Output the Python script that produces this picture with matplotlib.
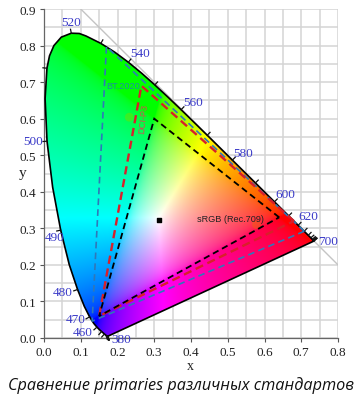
import numpy as np
import matplotlib
matplotlib.use('Agg')
import matplotlib.pyplot as plt
from matplotlib.patches import Polygon

locus_nm = [380,385,390,395,400,405,410,415,420,425,430,435,440,445,450,455,460,465,470,475,480,485,490,495,500,505,510,512.5,515,517.5,520,522.5,525,530,535,540,545,550,555,560,565,570,575,580,585,590,595,600,605,610,615,620,625,630,635,640,645,650,655,660,665,670,675,680,685,690,695,700]
locus_x = [.1741,.1740,.1738,.1736,.1733,.1730,.1726,.1721,.1714,.1703,.1689,.1669,.1644,.1611,.1566,.1510,.1440,.1355,.1241,.1096,.0913,.0687,.0454,.0235,.0082,.0030,.0080,.0150,.0270,.0470,.0743,.0960,.1142,.1547,.1929,.2296,.2658,.3016,.3373,.3731,.4087,.4441,.4788,.5125,.5448,.5752,.6029,.6270,.6482,.6658,.6801,.6915,.7006,.7079,.7140,.7190,.7230,.7260,.7283,.7300,.7311,.7320,.7327,.7334,.7340,.7344,.7346,.7347]
locus_y = [.0050,.0050,.0049,.0049,.0048,.0048,.0048,.0048,.0051,.0058,.0069,.0086,.0109,.0138,.0177,.0227,.0297,.0399,.0578,.0868,.1327,.2007,.2950,.4127,.5384,.6548,.7380,.7720,.8000,.8230,.8338,.8330,.8262,.8059,.7816,.7543,.7243,.6923,.6589,.6245,.5896,.5547,.5202,.4866,.4544,.4242,.3965,.3725,.3514,.3340,.3197,.3083,.2993,.2920,.2859,.2809,.2770,.2740,.2717,.2700,.2689,.2680,.2673,.2666,.2660,.2656,.2654,.2653]

bt2020_x = [.708,.170,.131]; bt2020_y = [.292,.797,.046]
p3_x = [.680,.265,.150];     p3_y = [.320,.690,.060]
srgb_x = [.640,.300,.150];   srgb_y = [.330,.600,.060]
white_x = [.3127];           white_y = [.322]

nm_labels = ['520','540','560','580','600','620','700','500','490','480','470','460','380']
nm_label_x = [.073,.262,.405,.543,.657,.720,.772,-.03,.03,.052,.086,.104,.211]
nm_label_y = [.865,.780,.645,.505,.395,.335,.265,.540,.277,.127,.052,.017,-.002]

tick_labels = ['0.0','0.1','0.2','0.3','0.4','0.5','0.6','0.7','0.8']
ytick_labels = tick_labels + ['0.9']
caption = 'Сравнение primaries различных стандартов'

W, H = 363, 406
fig = plt.figure(figsize=(W/100, H/100), dpi=100, facecolor='white')
ax = fig.add_axes([44/W, (H-339)/H, (338-44)/W, (339-10)/H])
ax.set_xlim(0, .8); ax.set_ylim(0, .9)
serif = 'Liberation Serif'
ax.set_xticks(np.arange(9)*.1, tick_labels, family=serif, fontsize=9.5, color='#222222')
ax.set_yticks(np.arange(10)*.1, ytick_labels, family=serif, fontsize=9.5, color='#222222')
ax.set_xticks(np.arange(17)*.05, minor=True)
ax.set_yticks(np.arange(19)*.05, minor=True)
ax.tick_params(which='major', length=3, width=.8, color='#555555', pad=2.5)
ax.tick_params(which='minor', length=0)
ax.grid(which='both', color='#d4d4d4', lw=1.1)
ax.set_axisbelow(True)
for s in ('top', 'right'):
    ax.spines[s].set_visible(False)
for s in ('left', 'bottom'):
    ax.spines[s].set_color('#666666'); ax.spines[s].set_linewidth(.9)
ax.set_xlabel('x', family=serif, fontsize=10, color='#222222')
ax.set_ylabel('y', family=serif, fontsize=11, rotation=0, color='#222222', va='center', ha='center')
ax.xaxis.set_label_coords((190-44)/294, -21/329)
ax.yaxis.set_label_coords((23-44)/294, (339-173)/329)

# chromaticity colour field
xs = np.linspace(0, .8, 500); ys = np.linspace(0, .9, 500)
gx, gy = np.meshgrid(xs, ys)
gy_safe = np.maximum(gy, 1e-3)
X, Y, Z = gx/gy_safe, np.ones_like(gx), (1-gx-gy)/gy_safe
r = 3.2406*X - 1.5372*Y - .4986*Z
g = -.9689*X + 1.8758*Y + .0415*Z
b = .0557*X - .2040*Y + 1.0570*Z
rgb = np.clip(np.dstack([r, g, b]), 0, None)
rgb = rgb / np.maximum(rgb.max(axis=2, keepdims=True), 1e-6)
rgb = rgb ** (1/2.2)
im = ax.imshow(rgb, origin='lower', extent=(0, .8, 0, .9), aspect='auto', zorder=2, interpolation='bilinear')
poly = Polygon(np.column_stack([locus_x, locus_y]), closed=True, transform=ax.transData, fc='none', ec='black', lw=1.2, zorder=4, clip_on=False, joinstyle='round')
ax.add_patch(poly)
im.set_clip_path(poly)

# x + y = 1 line
ax.plot([.1, .8], [.9, .2], color='#c4c4c4', lw=1, zorder=1.5)

# wavelength ticks every 10 nm
lx, ly = np.array(locus_x), np.array(locus_y)
sx, sy = 367, 365
for i, nm in enumerate(locus_nm):
    if nm % 10:
        continue
    a, b2 = max(i-1, 0), min(i+1, len(lx)-1)
    dx, dy = (lx[b2]-lx[a])*sx, (ly[b2]-ly[a])*sy
    n = np.hypot(dx, dy) or 1
    nx, ny = -dy/n, dx/n
    if nm < 440 or nm > 640:
        nx, ny = (.3, -.95) if nm < 440 else (.75, .65)
    ax.plot([lx[i], lx[i]+nx*4/sx], [ly[i], ly[i]+ny*4/sy], color='#111111', lw=.9, zorder=4, clip_on=False)

# gamut triangles
ax.fill(bt2020_x, bt2020_y, fc='none', ec='#2f78b8', ls=(0, (4, 2.5)), lw=1.2, zorder=5)
ax.fill(p3_x, p3_y, fc='none', ec='#d8202a', ls=(0, (3.5, 2)), lw=1.7, zorder=5)
ax.fill(srgb_x, srgb_y, fc='none', ec='black', ls=(0, (3.5, 2.2)), lw=1.3, zorder=6)
ax.scatter(white_x, white_y, marker='s', s=9, color='black', zorder=7)
ax.scatter([.232, .578], [.604, .310], s=40, color=['#70e000', '#f06010'], alpha=.5, lw=0, zorder=4.5)

for t, px, py in zip(nm_labels, nm_label_x, nm_label_y):
    ax.text(px, py, t, family=serif, fontsize=9.5, color='#3a3ac8', ha='center', va='center', zorder=8, clip_on=False)
ax.text(.216, .692, 'BT.2020', family='Liberation Sans', fontsize=6.6, color='#1a90a0', ha='center', va='center', zorder=8)
ax.text(.27, .602, 'DCI-P3', family='Liberation Sans', fontsize=6.6, color='#d05050', rotation=84, ha='center', va='center', zorder=8)
ax.text(.508, .327, 'sRGB (Rec.709)', family='Liberation Sans', fontsize=6.6, color='#222222', ha='center', va='center', zorder=8)

fig.text(181/W, 1-386/H, caption, family='Open Sans', style='italic', fontsize=11.7, color='#111111', ha='center', va='center')
fig.savefig('out.png', dpi=100)
